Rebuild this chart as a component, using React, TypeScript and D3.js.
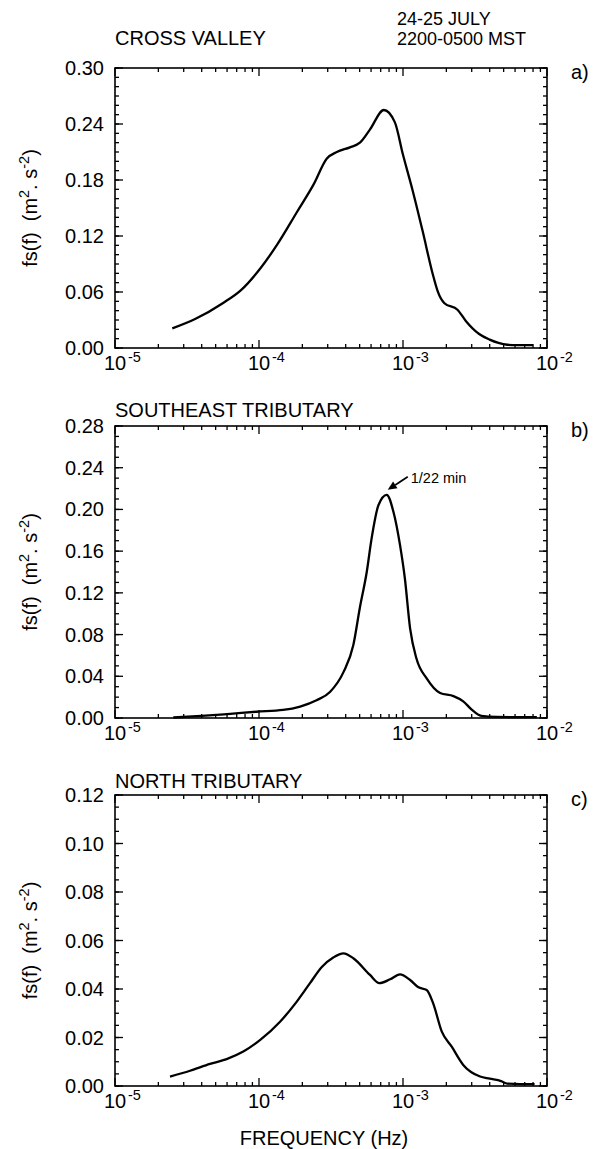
import React from "react";
import * as d3 from "d3";

// ---------- data ----------
const xTickExps = [-5, -4, -3, -2];

const freqA = [2.5e-5, 3.6e-5, 5.6e-5, 7.5e-5, 1.03e-4, 1.34e-4, 1.84e-4, 2.39e-4, 2.96e-4, 3.47e-4, 4.28e-4, 5.02e-4, 5.89e-4, 7.36e-4, 8.77e-4, 1.0e-3, 1.17e-3, 1.37e-3, 1.61e-3, 1.74e-3, 1.94e-3, 2.39e-3, 2.73e-3, 3.38e-3, 4.0e-3, 4.6e-3, 5.3e-3, 6.2e-3, 7.2e-3, 8.0e-3];
const valA = [0.021, 0.031, 0.048, 0.062, 0.086, 0.111, 0.146, 0.175, 0.203, 0.21, 0.215, 0.22, 0.234, 0.255, 0.242, 0.207, 0.168, 0.125, 0.079, 0.061, 0.048, 0.041, 0.029, 0.015, 0.009, 0.0055, 0.0035, 0.003, 0.003, 0.003];

const freqB = [2.54e-5, 4.0e-5, 6.3e-5, 9.6e-5, 1.47e-4, 1.93e-4, 2.51e-4, 3.11e-4, 3.86e-4, 4.52e-4, 5.02e-4, 5.6e-4, 6.05e-4, 6.75e-4, 7.71e-4, 8.57e-4, 9.53e-4, 1.03e-3, 1.12e-3, 1.24e-3, 1.46e-3, 1.81e-3, 2.24e-3, 2.62e-3, 3.0e-3, 3.5e-3, 4.5e-3, 6.0e-3, 8.5e-3];
const valB = [0.0005, 0.002, 0.004, 0.006, 0.0077, 0.011, 0.017, 0.025, 0.044, 0.07, 0.106, 0.14, 0.172, 0.204, 0.214, 0.198, 0.166, 0.134, 0.086, 0.057, 0.038, 0.024, 0.021, 0.016, 0.008, 0.002, 0.001, 0.0008, 0.0008];

const freqC = [2.41e-5, 3.32e-5, 4.57e-5, 5.96e-5, 7.78e-5, 1.02e-4, 1.4e-4, 1.83e-4, 2.26e-4, 2.72e-4, 3.28e-4, 3.86e-4, 4.52e-4, 5.9e-4, 6.86e-4, 8.13e-4, 9.53e-4, 1.12e-3, 1.28e-3, 1.46e-3, 1.62e-3, 1.86e-3, 2.18e-3, 2.62e-3, 3.43e-3, 4.0e-3, 4.8e-3, 5.3e-3, 6.5e-3, 8.2e-3];
const valC = [0.0039, 0.0063, 0.0091, 0.0111, 0.0142, 0.019, 0.0265, 0.0348, 0.0424, 0.049, 0.053, 0.0547, 0.0527, 0.0458, 0.0424, 0.044, 0.046, 0.0437, 0.0407, 0.0396, 0.0341, 0.0224, 0.0162, 0.0087, 0.0039, 0.003, 0.002, 0.001, 0.0008, 0.0008];

const yTicksA = [0, 0.06, 0.12, 0.18, 0.24, 0.3];
const yTicksB = [0, 0.04, 0.08, 0.12, 0.16, 0.2, 0.24, 0.28];
const yTicksC = [0, 0.02, 0.04, 0.06, 0.08, 0.1, 0.12];

const titles = ["CROSS VALLEY", "SOUTHEAST TRIBUTARY", "NORTH TRIBUTARY"];
const tags = ["a)", "b)", "c)"];
const headerLines = ["24-25 JULY", "2200-0500 MST"];
const annotationText = "1/22 min";
const annotationFreq = 7.71e-4;
const annotationVal = 0.214;
const xTitle = "FREQUENCY (Hz)";

// ---------- layout ----------
const W = 605;
const H = 1149;
const X0 = 115;
const X1 = 547;
const FONT = "'Liberation Sans', Arial, Helvetica, sans-serif";
const FS = 20;

type PanelCfg = {
  title: string;
  tag: string;
  top: number;
  bottom: number;
  yTicks: number[];
  minorStep: number;
  freq: number[];
  val: number[];
  titleY: number;
};

const panels: PanelCfg[] = [
  { title: titles[0], tag: tags[0], top: 68, bottom: 348, yTicks: yTicksA, minorStep: 0.01, freq: freqA, val: valA, titleY: 45 },
  { title: titles[1], tag: tags[1], top: 426, bottom: 718, yTicks: yTicksB, minorStep: 0.01, freq: freqB, val: valB, titleY: 417 },
  { title: titles[2], tag: tags[2], top: 795, bottom: 1086, yTicks: yTicksC, minorStep: 0.005, freq: freqC, val: valC, titleY: 788 },
];

const xScale = d3.scaleLog().domain([1e-5, 1e-2]).range([X0, X1]);

function Panel({ p }: { p: PanelCfg }) {
  const yMax = p.yTicks[p.yTicks.length - 1];
  const y = d3.scaleLinear().domain([0, yMax]).range([p.bottom, p.top]);
  const pts = p.freq.map((f, i) => [f, p.val[i]] as [number, number]);
  const line = d3
    .line<[number, number]>()
    .x((d) => xScale(d[0]))
    .y((d) => y(d[1]))
    .curve(d3.curveMonotoneX);

  const minorX: number[] = [];
  for (let e = -5; e <= -3; e++) for (let k = 2; k <= 9; k++) minorX.push(k * Math.pow(10, e));
  const majorX = xTickExps.map((e) => Math.pow(10, e));
  const nMinor = Math.round(yMax / p.minorStep);
  const minorY = d3.range(0, nMinor + 1).map((i) => i * p.minorStep);

  const majLen = 8;
  const minLen = 4;
  const tickStyle = { stroke: "#000", strokeWidth: 1.3 };

  return (
    <g>
      <rect x={X0} y={p.top} width={X1 - X0} height={p.bottom - p.top} fill="none" stroke="#000" strokeWidth={1.6} />
      {minorX.map((v, i) => (
        <g key={"mx" + i}>
          <line x1={xScale(v)} x2={xScale(v)} y1={p.bottom} y2={p.bottom - minLen} {...tickStyle} />
          <line x1={xScale(v)} x2={xScale(v)} y1={p.top} y2={p.top + minLen} {...tickStyle} />
        </g>
      ))}
      {majorX.map((v, i) => (
        <g key={"Mx" + i}>
          <line x1={xScale(v)} x2={xScale(v)} y1={p.bottom} y2={p.bottom - majLen} {...tickStyle} />
          <line x1={xScale(v)} x2={xScale(v)} y1={p.top} y2={p.top + majLen} {...tickStyle} />
        </g>
      ))}
      {minorY.map((v, i) => (
        <g key={"my" + i}>
          <line x1={X0} x2={X0 + minLen} y1={y(v)} y2={y(v)} {...tickStyle} />
          <line x1={X1} x2={X1 - minLen} y1={y(v)} y2={y(v)} {...tickStyle} />
        </g>
      ))}
      {p.yTicks.map((v, i) => (
        <g key={"My" + i}>
          <line x1={X0} x2={X0 + majLen} y1={y(v)} y2={y(v)} {...tickStyle} />
          <line x1={X1} x2={X1 - majLen} y1={y(v)} y2={y(v)} {...tickStyle} />
          <text x={X0 - 11} y={y(v) + 7} textAnchor="end" fontSize={FS} fontFamily={FONT}>
            {d3.format(".2f")(v)}
          </text>
        </g>
      ))}
      {xTickExps.map((e, i) => {
        const px = xScale(Math.pow(10, e));
        return (
          <g key={"xl" + i}>
            <text x={px} y={p.bottom + 22} textAnchor="middle" fontSize={FS} fontFamily={FONT}>
              10
            </text>
            <text x={px + 13} y={p.bottom + 14} textAnchor="start" fontSize={14.5} fontFamily={FONT}>
              {String(e)}
            </text>
          </g>
        );
      })}
      <path d={line(pts) || ""} fill="none" stroke="#000" strokeWidth={2.3} strokeLinejoin="round" />
      <text x={X0} y={p.titleY} fontSize={FS} fontFamily={FONT}>
        {p.title}
      </text>
      <text x={571} y={p.top + 11} fontSize={FS} fontFamily={FONT}>
        {p.tag}
      </text>
      <text
        transform={`translate(37,${(p.top + p.bottom) / 2}) rotate(-90)`}
        textAnchor="middle"
        fontSize={FS}
        fontFamily={FONT}
      >
        <tspan>{"fs(f)\u00a0\u00a0(m"}</tspan>
        <tspan dy={-8} fontSize={14.5}>2</tspan>
        <tspan dy={8}>{".\u00a0s"}</tspan>
        <tspan dy={-8} fontSize={14.5}>-2</tspan>
        <tspan dy={8}>)</tspan>
      </text>
    </g>
  );
}

export default function App() {
  const pB = panels[1];
  const yB = d3.scaleLinear().domain([0, pB.yTicks[pB.yTicks.length - 1]]).range([pB.bottom, pB.top]);
  const tipX = xScale(annotationFreq) + 1;
  const tipY = yB(annotationVal) - 5;
  const tailX = tipX + 20;
  const tailY = tipY - 13;
  const ang = Math.atan2(tipY - tailY, tipX - tailX);
  const hl = 9;
  const hw = 4;
  const bx = tipX - hl * Math.cos(ang);
  const by = tipY - hl * Math.sin(ang);
  const head = `M${tipX},${tipY} L${bx + hw * Math.sin(ang)},${by - hw * Math.cos(ang)} L${bx - hw * Math.sin(ang)},${by + hw * Math.cos(ang)} Z`;

  return (
    <svg width={W} height={H} style={{ position: "absolute", left: 0, top: 0, background: "#fff" }}>
      <rect x={0} y={0} width={W} height={H} fill="#fff" />
      {panels.map((p, i) => (
        <Panel key={i} p={p} />
      ))}
      <text x={397} y={25} fontSize={18} fontFamily={FONT}>
        {headerLines[0]}
      </text>
      <text x={397} y={45} fontSize={18} fontFamily={FONT}>
        {headerLines[1]}
      </text>
      <line x1={tailX} y1={tailY} x2={bx} y2={by} stroke="#000" strokeWidth={1.8} />
      <path d={head} fill="#000" />
      <text x={tailX + 3} y={tailY + 6} fontSize={14.5} fontFamily={FONT}>
        {annotationText}
      </text>
      <text x={324} y={1145} textAnchor="middle" fontSize={FS} fontFamily={FONT}>
        {xTitle}
      </text>
    </svg>
  );
}
